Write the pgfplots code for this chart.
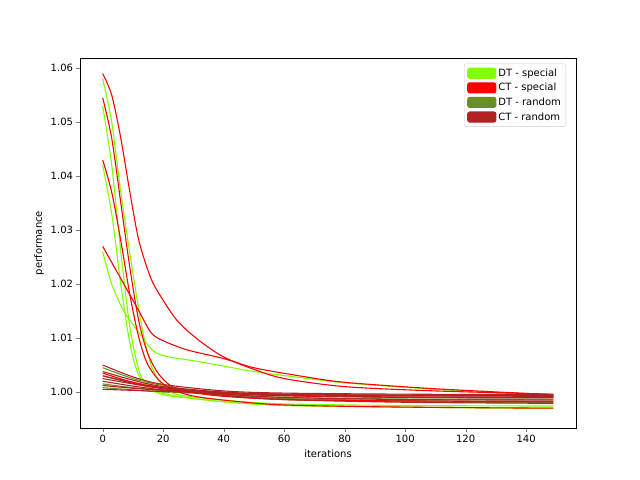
\documentclass[border=0pt]{standalone}
\usepackage{pgfplots}
\pgfplotsset{compat=1.18}
\usepackage{fontspec}
\setmainfont{DejaVu Sans}
\definecolor{dts}{HTML}{7FFF00}
\definecolor{cts}{HTML}{FF0000}
\definecolor{dtr}{HTML}{6B8E23}
\definecolor{ctr}{HTML}{B22222}
\pgfplotsset{patch/.style={legend image code/.code={\fill[#1] (0bp,-5bp) rectangle (28bp,5bp);}}}
\begin{document}
\begin{tikzpicture}
\path[use as bounding box] (0,0) rectangle (640bp,480bp);
\begin{axis}[
 width=496bp, height=370bp, scale only axis,
 at={(80bp,52bp)}, anchor=south west,
 xmin=-7.5, xmax=156.5, ymin=0.99333, ymax=1.0619,
 xtick={0,20,...,140}, ytick={1.00,1.01,1.02,1.03,1.04,1.05,1.06},
 yticklabel style={/pgf/number format/.cd,fixed,fixed zerofill,precision=2},
 /pgf/number format/assume math mode=true,
 tick label style={font=\fontsize{10bp}{12bp}\selectfont}, label style={font=\fontsize{10bp}{12bp}\selectfont},
 xlabel={iterations}, ylabel={performance},
 tick align=outside, xtick pos=bottom, ytick pos=left,
 major tick length=3.5bp,
 legend style={at={(0.98,0.985)}, anchor=north east, font=\fontsize{10bp}{12bp}\selectfont, draw=gray!40, rounded corners=2pt, row sep=1.5bp, inner sep=3bp},
 legend cell align=left,
 every axis plot/.append style={smooth, line width=1.1pt, no marks},
]
\addlegendimage{patch=dts}\addlegendentry{DT - special}
\addlegendimage{patch=cts}\addlegendentry{CT - special}
\addlegendimage{patch=dtr}\addlegendentry{DT - random}
\addlegendimage{patch=ctr}\addlegendentry{CT - random}
% random curves
\addplot[dtr, forget plot] coordinates {(0,1.0045)(10,1.0025)(20,1.0012)(40,0.9995)(60,0.9988)(100,0.9984)(149,0.9982)};
\addplot[dtr, forget plot] coordinates {(0,1.0030)(10,1.0018)(20,1.0008)(40,0.9993)(60,0.9986)(100,0.9982)(149,0.9980)};
\addplot[dtr, forget plot] coordinates {(0,1.0015)(10,1.0008)(20,1.0003)(40,0.9995)(60,0.9990)(100,0.9987)(149,0.9986)};
\addplot[dtr, forget plot] coordinates {(0,1.0008)(10,1.0004)(20,1.0000)(40,0.9996)(60,0.9993)(100,0.9990)(149,0.9989)};
% special DT
\addplot[dts, forget plot] coordinates {(0,1.058)(3,1.050)(6,1.037)(10,1.022)(13,1.012)(16,1.005)(20,1.001)(25,0.9995)(40,0.9985)(60,0.9978)(100,0.9975)(149,0.9974)};
\addplot[dts, forget plot] coordinates {(0,1.053)(3,1.042)(6,1.026)(9,1.012)(12,1.004)(15,1.001)(20,0.9995)(30,0.9988)(50,0.9978)(100,0.9972)(149,0.9970)};
\addplot[dts, forget plot] coordinates {(0,1.042)(3,1.033)(6,1.020)(9,1.009)(12,1.003)(16,1.0005)(25,0.9992)(40,0.9982)(60,0.9975)(100,0.9972)(149,0.9970)};
\addplot[dts, forget plot] coordinates {(0,1.026)(3,1.020)(7,1.015)(12,1.011)(17,1.0075)(22,1.0065)(30,1.0058)(40,1.0048)(50,1.0038)(65,1.0027)(80,1.0017)(110,1.0005)(149,0.9993)};
% special CT
\addplot[cts, forget plot] coordinates {(0,1.059)(3,1.055)(6,1.047)(9,1.037)(12,1.028)(16,1.021)(20,1.017)(25,1.013)(32,1.0095)(40,1.0065)(50,1.0042)(60,1.0025)(80,1.0010)(110,1.0002)(149,0.9996)};
\addplot[cts, forget plot] coordinates {(0,1.0545)(3,1.047)(6,1.035)(9,1.023)(12,1.013)(15,1.007)(19,1.003)(25,1.0005)(40,0.9992)(70,0.9985)(149,0.9982)};
\addplot[cts, forget plot] coordinates {(0,1.043)(3,1.037)(6,1.028)(9,1.018)(12,1.010)(15,1.005)(20,1.0015)(28,0.9995)(40,0.9985)(60,0.9976)(100,0.9972)(149,0.9970)};
\addplot[cts, forget plot] coordinates {(0,1.027)(4,1.023)(8,1.019)(12,1.015)(16,1.011)(20,1.0095)(28,1.0078)(40,1.0062)(50,1.0045)(65,1.0030)(80,1.0018)(110,1.0006)(149,0.9995)};
\addplot[cts, forget plot] coordinates {(0,1.0035)(10,1.0018)(20,1.0008)(40,0.9998)(70,0.9992)(149,0.9990)};
% random CT
\addplot[ctr, forget plot] coordinates {(0,1.005)(10,1.0028)(20,1.0014)(40,1.0002)(60,0.9998)(100,0.9996)(149,0.9995)};
\addplot[ctr, forget plot] coordinates {(0,1.0038)(10,1.0022)(20,1.0010)(40,1.0000)(60,0.9996)(100,0.9994)(149,0.9993)};
\addplot[ctr, forget plot] coordinates {(0,1.0025)(10,1.0015)(20,1.0007)(40,0.9999)(60,0.9995)(100,0.9993)(149,0.9992)};
\addplot[ctr, forget plot] coordinates {(0,1.0020)(10,1.0011)(20,1.0004)(40,0.9996)(60,0.9990)(100,0.9986)(149,0.9985)};
\addplot[ctr, forget plot] coordinates {(0,1.0012)(10,1.0007)(20,1.0003)(40,0.9998)(60,0.9994)(100,0.9990)(149,0.9989)};
\addplot[ctr, forget plot] coordinates {(0,1.0005)(10,1.0003)(20,1.0001)(40,0.9998)(60,0.9996)(100,0.9994)(149,0.9993)};
\addplot[ctr, forget plot] coordinates {(0,1.0030)(10,1.0016)(20,1.0006)(40,0.9994)(60,0.9986)(100,0.9981)(149,0.9979)};
\end{axis}
\end{tikzpicture}
\end{document}
